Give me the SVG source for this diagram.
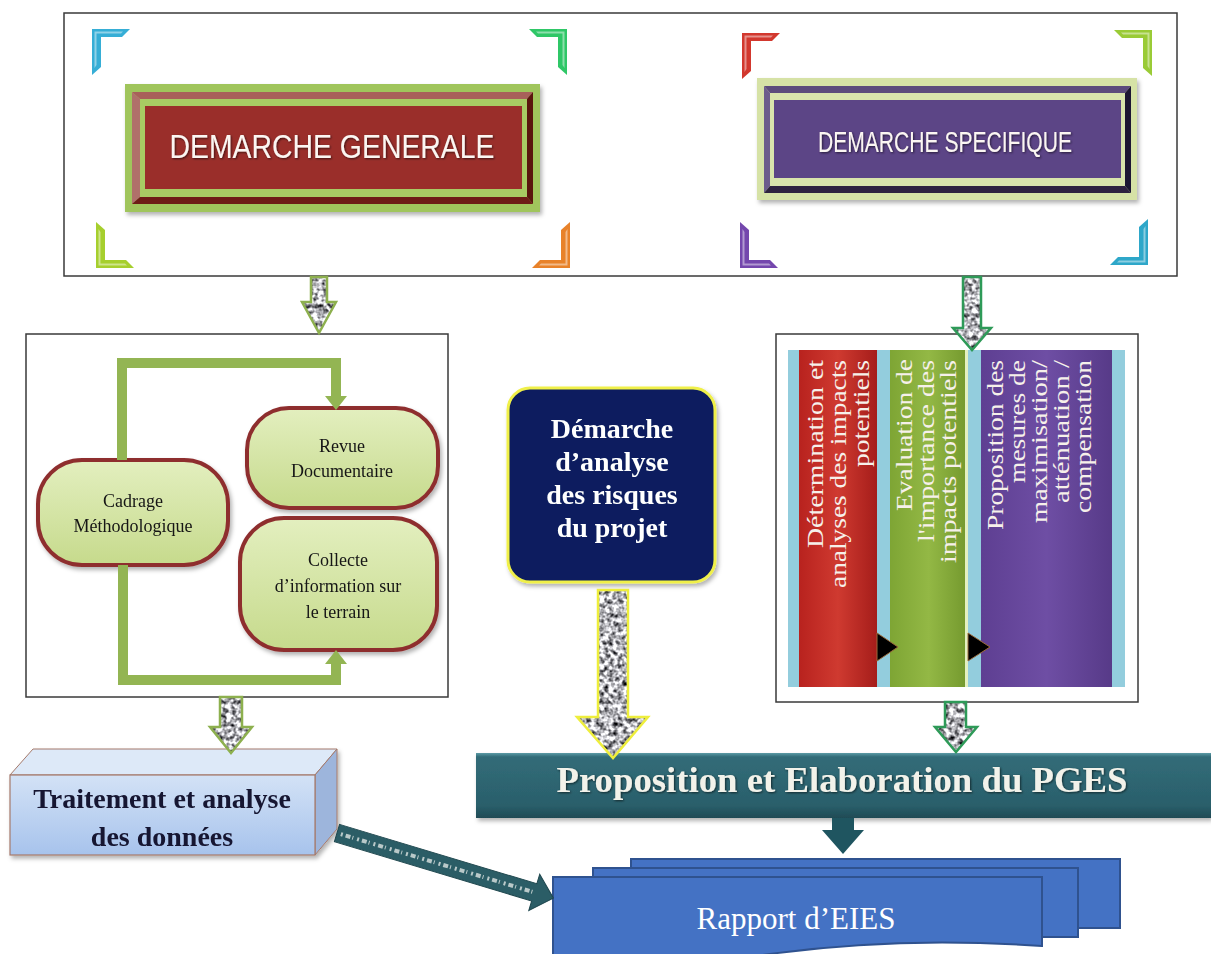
<svg xmlns="http://www.w3.org/2000/svg" width="1211" height="954" viewBox="0 0 1211 954">
<defs>
<style>
.frame{fill:#fff;stroke:#3a3a3a;stroke-width:1.5}
.cap{font-family:"Liberation Sans",Arial,sans-serif;fill:#fbf6f2;text-anchor:middle}
.pilltxt{font-family:"Liberation Serif","Times New Roman",serif;font-size:18px;fill:#161616;text-anchor:middle}
.coltxt{font-family:"Liberation Serif","Times New Roman",serif;font-size:23px;fill:#f6f0ea;text-anchor:end}
.bold{font-family:"Liberation Serif","Times New Roman",serif;font-weight:bold;text-anchor:middle}
.pill{fill:url(#pillg);stroke:#8e2f2f;stroke-width:4}
.loop{fill:none;stroke:#93b553;stroke-width:10}
.loophead{fill:#93b553}
.tex{fill:#888;filter:url(#noise)}
.ol{fill:none;stroke-width:2.5;stroke-linejoin:miter}
.doc{fill:#4472c4;stroke:#2f528f;stroke-width:2}
</style>
<filter id="noise" x="-5%" y="-5%" width="110%" height="110%" color-interpolation-filters="sRGB">
<feTurbulence type="fractalNoise" baseFrequency="0.22" numOctaves="2" seed="7" result="t"/>
<feColorMatrix in="t" type="matrix" values="2 0 0 0 -0.3  2 0 0 0 -0.3  2 0 0 0 -0.28  0 0 0 0 1" result="g"/>
<feComposite in="g" in2="SourceGraphic" operator="in"/>
</filter>
<filter id="sh" x="-10%" y="-10%" width="120%" height="130%">
<feDropShadow dx="2" dy="3" stdDeviation="2" flood-color="#000" flood-opacity="0.3"/>
</filter>
<filter id="tsh" x="-5%" y="-20%" width="110%" height="140%">
<feDropShadow dx="1" dy="1" stdDeviation="0.8" flood-color="#000" flood-opacity="0.6"/>
</filter>
<linearGradient id="pillg" x1="0" y1="0" x2="0" y2="1">
<stop offset="0" stop-color="#e3efbf"/><stop offset="1" stop-color="#c6da8c"/>
</linearGradient>
<linearGradient id="frontg" x1="0" y1="0" x2="0" y2="1">
<stop offset="0" stop-color="#d3e2f6"/><stop offset="1" stop-color="#a7c3ec"/>
</linearGradient>
<linearGradient id="barg" x1="0" y1="0" x2="0" y2="1">
<stop offset="0" stop-color="#5d9ba6"/><stop offset="0.06" stop-color="#326c78"/><stop offset="0.8" stop-color="#2a5f6b"/><stop offset="1" stop-color="#1f4b55"/>
</linearGradient>
<linearGradient id="redc" x1="0" y1="0" x2="1" y2="0">
<stop offset="0" stop-color="#b8221e"/><stop offset="0.5" stop-color="#cf3a30"/><stop offset="1" stop-color="#a51d1a"/>
</linearGradient>
<linearGradient id="grnc" x1="0" y1="0" x2="1" y2="0">
<stop offset="0" stop-color="#7ea534"/><stop offset="0.5" stop-color="#93b845"/><stop offset="1" stop-color="#74992e"/>
</linearGradient>
<linearGradient id="purc" x1="0" y1="0" x2="1" y2="0">
<stop offset="0" stop-color="#5e3f92"/><stop offset="0.5" stop-color="#6e4ea4"/><stop offset="1" stop-color="#573a88"/>
</linearGradient>
<g id="brk">
<path d="M0,0 H38 L30,8 H9 V38 L0,46 Z"/>
<path d="M2.5,2.5 H31 L29,4.5 H4.5 V36 L2.5,39 Z" fill="#fff" fill-opacity="0.45"/>
</g>
</defs>

<rect width="1211" height="954" fill="#fff"/>

<!-- top frame -->
<g id="top-frame">
<rect class="frame" x="64" y="13" width="1113" height="263"/>
<use href="#brk" fill="#36aed6" transform="translate(92,29)"/>
<use href="#brk" fill="#2fc767" transform="translate(567,29) scale(-1,1)"/>
<use href="#brk" fill="#a6cf2e" transform="translate(96,268) scale(1,-1)"/>
<use href="#brk" fill="#e8822a" transform="translate(570,268) scale(-1,-1)"/>
<use href="#brk" fill="#d2382e" transform="translate(742,33)"/>
<use href="#brk" fill="#9acb36" transform="translate(1152,30) scale(-1,1)"/>
<use href="#brk" fill="#7447ad" transform="translate(740,268) scale(1,-1)"/>
<use href="#brk" fill="#2ea7c9" transform="translate(1148,265) scale(-1,-1)"/>
</g>

<g id="demarche-generale" filter="url(#sh)">
<rect x="125" y="84" width="415" height="128" fill="#a0c55c"/>
<polygon points="132,92 533,92 527,99 140,99" fill="#a8605a"/>
<polygon points="132,92 140,99 140,197 132,204" fill="#b0706a"/>
<polygon points="132,204 140,197 527,197 533,204" fill="#6e1a18"/>
<polygon points="533,92 527,99 527,197 533,204" fill="#5a1311"/>
<rect x="140" y="99" width="387" height="98" fill="#a8cb64"/>
<rect x="145" y="106" width="377" height="83" fill="#9a2f2c"/>
<text class="cap" x="332" y="158" font-size="33" textLength="325" lengthAdjust="spacingAndGlyphs" filter="url(#tsh)">DEMARCHE GENERALE</text>
</g>

<g id="demarche-specifique" filter="url(#sh)">
<rect x="757" y="78" width="380" height="122" fill="#d6e2a6"/>
<polygon points="764,86 1131,86 1125,93 770,93" fill="#5c4c7c"/>
<polygon points="764,86 770,93 770,186 764,193" fill="#6c5c8c"/>
<polygon points="764,193 770,186 1125,186 1131,193" fill="#2e2440"/>
<polygon points="1131,86 1125,93 1125,186 1131,193" fill="#1c1630"/>
<rect x="770" y="93" width="355" height="93" fill="#d9e4ac"/>
<rect x="774" y="100" width="347" height="78" fill="#5c4486"/>
<text class="cap" x="945" y="152" font-size="29" textLength="254" lengthAdjust="spacingAndGlyphs" filter="url(#tsh)">DEMARCHE SPECIFIQUE</text>
</g>

<!-- left process box -->
<g id="demarche-generale-detail">
<rect class="frame" x="26" y="334" width="422" height="363"/>
</g>

<g id="cadrage" filter="url(#sh)">
<rect class="pill" x="38" y="460" width="190" height="105" rx="44" ry="44"/>
<text class="pilltxt" x="133" y="507">Cadrage</text>
<text class="pilltxt" x="133" y="532">Méthodologique</text>
</g>
<g id="revue" filter="url(#sh)">
<rect class="pill" x="247" y="408" width="191" height="100" rx="42" ry="42"/>
<text class="pilltxt" x="342" y="452">Revue</text>
<text class="pilltxt" x="342" y="477">Documentaire</text>
</g>
<g id="collecte" filter="url(#sh)">
<rect class="pill" x="240" y="518" width="197" height="132" rx="44" ry="44"/>
<text class="pilltxt" x="338" y="566">Collecte</text>
<text class="pilltxt" x="338" y="592">d’information sur</text>
<text class="pilltxt" x="338" y="618">le terrain</text>
</g>

<!-- right box -->
<g id="demarche-specifique-detail">
<rect class="frame" x="776" y="334" width="362" height="368"/>
<rect x="788" y="350" width="337" height="337" fill="#93cddd"/>
</g>
<g id="col-determination">
<rect x="799" y="350" width="78" height="337" fill="url(#redc)"/>
<text class="coltxt" transform="translate(823,360) rotate(-90)" textLength="188" lengthAdjust="spacingAndGlyphs">Détermination et</text>
<text class="coltxt" transform="translate(846,360) rotate(-90)" textLength="228" lengthAdjust="spacingAndGlyphs">analyses des impacts</text>
<text class="coltxt" transform="translate(869,360) rotate(-90)" textLength="107" lengthAdjust="spacingAndGlyphs">potentiels</text>
</g>
<g id="col-evaluation">
<rect x="890" y="350" width="77" height="337" fill="url(#grnc)"/>
<rect x="965" y="350" width="3" height="337" fill="#e4f0c0"/>
<text class="coltxt" transform="translate(912,359) rotate(-90)" textLength="152" lengthAdjust="spacingAndGlyphs">Evaluation de</text>
<text class="coltxt" transform="translate(934,360) rotate(-90)" textLength="182" lengthAdjust="spacingAndGlyphs">l'importance des</text>
<text class="coltxt" transform="translate(956,360) rotate(-90)" textLength="203" lengthAdjust="spacingAndGlyphs">impacts potentiels</text>
</g>
<g id="col-proposition">
<rect x="981" y="350" width="131" height="337" fill="url(#purc)"/>
<text class="coltxt" transform="translate(1003,360) rotate(-90)" textLength="170" lengthAdjust="spacingAndGlyphs">Proposition des</text>
<text class="coltxt" transform="translate(1025,360) rotate(-90)" textLength="123" lengthAdjust="spacingAndGlyphs">mesures de</text>
<text class="coltxt" transform="translate(1047,360) rotate(-90)" textLength="163" lengthAdjust="spacingAndGlyphs">maximisation/</text>
<text class="coltxt" transform="translate(1069,360) rotate(-90)" textLength="143" lengthAdjust="spacingAndGlyphs">atténuation /</text>
<text class="coltxt" transform="translate(1091,360) rotate(-90)" textLength="153" lengthAdjust="spacingAndGlyphs">compensation</text>
</g>

<!-- risques box -->
<g id="risques" filter="url(#sh)">
<rect x="508" y="388" width="207" height="194" rx="22" ry="22" fill="#0b1f5e" stroke="#f0f04a" stroke-width="3"/>
<text class="bold" x="612" y="438" font-size="28" fill="#fff">Démarche</text>
<text class="bold" x="612" y="471" font-size="28" fill="#fff">d’analyse</text>
<text class="bold" x="612" y="504" font-size="28" fill="#fff">des risques</text>
<text class="bold" x="612" y="537" font-size="28" fill="#fff">du projet</text>
</g>

<!-- traitement box -->
<g id="traitement" filter="url(#sh)">
<polygon points="10,775 33,749 337,749 315,775" fill="#dde9f8" stroke="#a57a6c" stroke-width="1"/>
<polygon points="315,775 337,749 337,829 315,855" fill="#9db5dc" stroke="#a57a6c" stroke-width="1"/>
<rect x="10" y="775" width="305" height="80" fill="url(#frontg)" stroke="#a57a6c" stroke-width="1.2"/>
<text class="bold" x="162" y="808" font-size="28" fill="#151530">Traitement et analyse</text>
<text class="bold" x="162" y="846" font-size="28" fill="#151530">des données</text>
</g>

<!-- PGES bar -->
<g id="pges" filter="url(#sh)">
<rect x="476" y="753" width="735" height="65" fill="url(#barg)"/>
<text class="bold" x="842" y="792" font-size="36" fill="#f2f2ea" textLength="571" lengthAdjust="spacingAndGlyphs" filter="url(#tsh)">Proposition et Elaboration du PGES</text>
</g>

<!-- rapport -->
<g id="rapport">
<rect class="doc" x="631" y="859" width="489" height="69"/>
<rect class="doc" x="593" y="868" width="485" height="69"/>
<path class="doc" d="M553,877 H1042 V946 Q900,936 770,954 T553,962 Z"/>
<text x="796" y="929" font-family="Liberation Serif, Times New Roman, serif" font-size="31" fill="#fff" text-anchor="middle">Rapport d’EIES</text>
</g>

<!-- connectors -->
<g id="connectors">
<path class="loop" d="M122,460 V363 H336 V398"/>
<polygon class="loophead" points="325,396 347,396 336,410"/>
<path class="loop" d="M123,565 V680 H336 V662"/>
<polygon class="loophead" points="325,664 347,664 336,650"/>

<path class="tex" d="M311,277 H327 V302 H336 L319,333 L302,302 H311 Z"/>
<path class="ol" stroke="#8db04e" d="M311,277 H327 V302 H336 L319,333 L302,302 H311 Z"/>

<path class="tex" d="M963,277 H981 V328 H991 L972,350 L953,328 H963 Z"/>
<path class="ol" stroke="#2e9a58" d="M963,277 H981 V328 H991 L972,350 L953,328 H963 Z"/>

<path class="tex" d="M220,697 H242 V727 H252 L231,753 L210,727 H220 Z"/>
<path class="ol" stroke="#8db04e" d="M220,697 H242 V727 H252 L231,753 L210,727 H220 Z"/>

<path class="tex" d="M598,590 H628 V717 H648 L613,758 L577,717 H598 Z"/>
<path class="ol" stroke="#eeee3c" stroke-width="3" d="M598,590 H628 V717 H648 L613,758 L577,717 H598 Z"/>

<path class="tex" d="M945,702 H966 V727 H977 L956,752 L935,727 H945 Z"/>
<path class="ol" stroke="#2e9a58" d="M945,702 H966 V727 H977 L956,752 L935,727 H945 Z"/>

<polygon points="877,633 898,647 877,661" fill="#000" stroke="#9a6a3a" stroke-width="1"/>
<polygon points="968,633 990,647 968,661" fill="#000" stroke="#9a6a3a" stroke-width="1"/>

<path d="M832,818 H854 V830 H864 L843,854 L822,830 H832 Z" fill="#1f5560"/>

<g transform="translate(337,833) rotate(16.75)">
<path d="M0,-9 H206 V-19 L226,0 L206,19 V9 H0 Z" fill="#2b5d66" stroke="#1f474e" stroke-width="1"/>
<line x1="4" y1="0" x2="204" y2="0" stroke="#b9c9c9" stroke-width="4" stroke-dasharray="2 3 5 2 1 4"/>
</g>
</g>
</svg>
